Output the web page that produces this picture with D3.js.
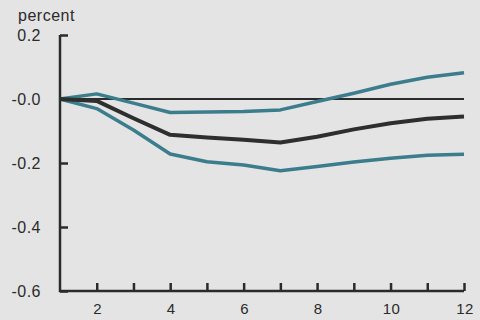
<!DOCTYPE html>
<html lang="en">
<head>
    <meta charset="UTF-8">
    <title>Impulse response</title>
    <script src="https://d3js.org/d3.v7.min.js"></script>
    <style>
        html, body {
            margin: 0;
            padding: 0;
            background: #e4e4e4;
        }
        svg {
            display: block;
            font-family: "Liberation Sans", Arial, sans-serif;
        }
        svg text {
            letter-spacing: 0.5px;
        }
    </style>
</head>
<body>
    <div id="chart"></div>
    <script>
        const width = 480;
        const height = 320;

        // horizon (periods) and responses, in percent
        const periods = [1, 2, 3, 4, 5, 6, 7, 8, 9, 10, 11, 12];
        const estimate = [0, -0.006, -0.06, -0.112, -0.12, -0.127, -0.136, -0.118, -0.095, -0.076, -0.062, -0.055];
        const upperBand = [0, 0.016, -0.013, -0.042, -0.041, -0.039, -0.034, -0.008, 0.018, 0.046, 0.068, 0.082];
        const lowerBand = [0, -0.03, -0.097, -0.172, -0.196, -0.206, -0.224, -0.211, -0.197, -0.185, -0.176, -0.173];

        const yTicks = [0.2, 0, -0.2, -0.4, -0.6];
        const yTickLabels = ['0.2', '-0.0', '-0.2', '-0.4', '-0.6'];
        const xTicks = [2, 3, 4, 5, 6, 7, 8, 9, 10, 11, 12];
        const xTickLabels = [2, 4, 6, 8, 10, 12];

        const x = d3.scaleLinear().domain([1, 12]).range([60, 464]);
        const y = d3.scaleLinear().domain([-0.6, 0.2]).range([291, 35]);

        const svg = d3.select('#chart')
            .append('svg')
            .attr('width', width)
            .attr('height', height);

        const axisColor = '#2b2b2b';

        // y axis, ticks pointing inward
        const yAxis = svg.append('g')
            .attr('transform', `translate(${x(1)},0)`)
            .call(d3.axisRight(y).tickValues(yTicks).tickSize(8).tickFormat(''));
        yAxis.select('.domain').remove();
        yAxis.selectAll('.tick line').attr('stroke', axisColor).attr('stroke-width', 2.5);

        // x axis, ticks pointing up
        const xAxis = svg.append('g')
            .attr('transform', `translate(0,${y(-0.6)})`)
            .call(d3.axisTop(x).tickValues(xTicks).tickSize(8).tickFormat(''));
        xAxis.select('.domain').remove();
        xAxis.selectAll('.tick line').attr('stroke', axisColor).attr('stroke-width', 2.5);

        // axis lines
        svg.append('path')
            .attr('d', `M${x(1)},${y(0.2)}V${y(-0.6)}H${x(12)}`)
            .attr('fill', 'none')
            .attr('stroke', axisColor)
            .attr('stroke-width', 2.5);

        // labels
        svg.selectAll('.ylab')
            .data(yTicks)
            .enter().append('text')
            .attr('class', 'ylab')
            .attr('x', 41)
            .attr('y', d => y(d) + 6)
            .attr('text-anchor', 'end')
            .attr('font-size', 16)
            .attr('fill', '#2b2b2b')
            .text((d, i) => yTickLabels[i]);

        svg.selectAll('.xlab')
            .data(xTickLabels)
            .enter().append('text')
            .attr('class', 'xlab')
            .attr('x', d => x(d) + 1)
            .attr('y', 314)
            .attr('text-anchor', 'middle')
            .attr('font-size', 15)
            .attr('fill', '#2b2b2b')
            .text(d => d);

        svg.append('text')
            .attr('x', 18)
            .attr('y', 21)
            .attr('font-size', 16)
            .attr('fill', '#2b2b2b')
            .text('percent');

        // zero line
        svg.append('line')
            .attr('x1', x(1)).attr('x2', x(12))
            .attr('y1', y(0)).attr('y2', y(0))
            .attr('stroke', '#2b2b2b')
            .attr('stroke-width', 2);

        const line = d3.line()
            .x((d, i) => x(periods[i]))
            .y(d => y(d));

        const teal = '#3b7d8c';
        [upperBand, lowerBand].forEach(s => {
            svg.append('path')
                .attr('d', line(s))
                .attr('fill', 'none')
                .attr('stroke', teal)
                .attr('stroke-width', 3.5)
                .attr('stroke-linejoin', 'round');
        });

        svg.append('path')
            .attr('d', line(estimate))
            .attr('fill', 'none')
            .attr('stroke', '#2e2e2e')
            .attr('stroke-width', 4)
            .attr('stroke-linejoin', 'round');
    </script>
</body>
</html>
